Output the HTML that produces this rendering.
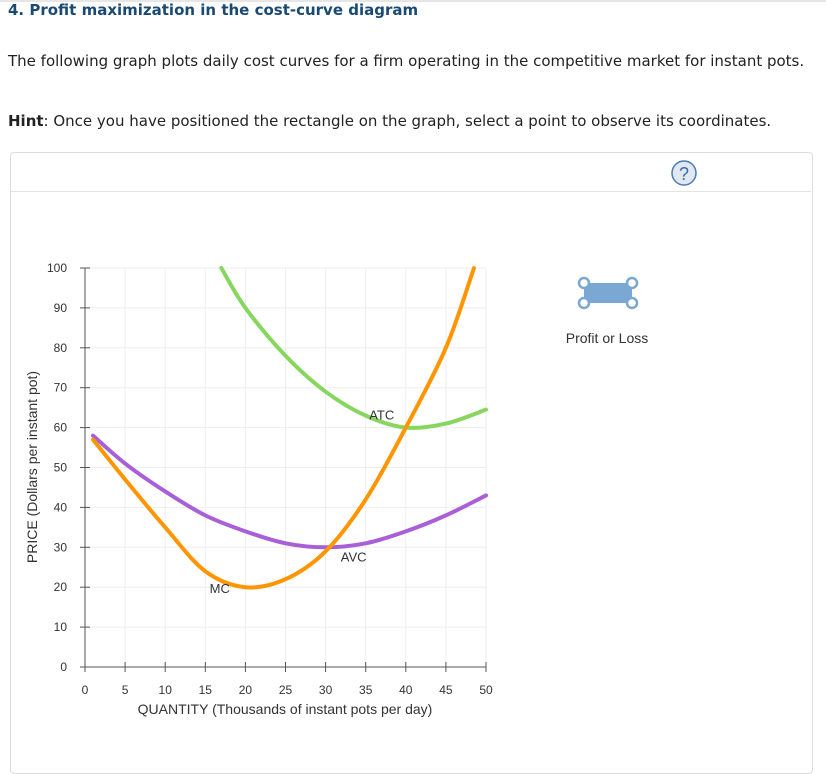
<!DOCTYPE html>
<html><head><meta charset="utf-8"><style>
body{margin:0;width:826px;height:755px;background:#fff;font-family:"Liberation Sans",sans-serif;position:relative;overflow:hidden}
.t{position:absolute;font-family:"DejaVu Sans","Liberation Sans",sans-serif;color:#222}
</style></head><body>
<div style="position:absolute;left:0;top:0;width:826px;height:2px;background:#e6e6e6"></div>
<div class="t" style="left:8px;top:1px;font-size:15px;font-weight:bold;color:#1a4a74">4. Profit maximization in the cost-curve diagram</div>
<div class="t" style="left:8px;top:52px;font-size:15px">The following graph plots daily cost curves for a firm operating in the competitive market for instant pots.</div>
<div class="t" style="left:8px;top:112px;font-size:15px"><b>Hint</b>: Once you have positioned the rectangle on the graph, select a point to observe its coordinates.</div>
<div style="position:absolute;left:10px;top:152px;width:801px;height:620px;border:1px solid #ddd;border-radius:4px"></div>
<div style="position:absolute;left:11px;top:191px;width:800px;height:1px;background:#e3e3e3"></div>
<svg width="826" height="755" style="position:absolute;left:0;top:0">
<g><circle cx="684" cy="173" r="12" fill="#dfe8f3" stroke="#4e7bb2" stroke-width="1.5"/><text x="684" y="180" text-anchor="middle" font-size="18" fill="#3a6ba3" font-family="Liberation Sans">?</text></g>
<g id="grid"></g><g id="axes"></g><g id="curves"></g>
<g>
<rect x="584" y="283" width="48" height="20" fill="#7ba7d4"/>
<circle cx="584" cy="283" r="5" fill="#fff" stroke="#7ba7d4" stroke-width="2.5"/><circle cx="632" cy="283" r="5" fill="#fff" stroke="#7ba7d4" stroke-width="2.5"/>
<circle cx="584" cy="303" r="5" fill="#fff" stroke="#7ba7d4" stroke-width="2.5"/><circle cx="632" cy="303" r="5" fill="#fff" stroke="#7ba7d4" stroke-width="2.5"/>
<text x="607" y="343" text-anchor="middle" font-size="14" fill="#333">Profit or Loss</text></g>
<text transform="translate(37,467) rotate(-90)" text-anchor="middle" font-size="14" fill="#333">PRICE (Dollars per instant pot)</text>
<text x="285" y="714" text-anchor="middle" font-size="14" fill="#333">QUANTITY (Thousands of instant pots per day)</text>
</svg>
<script>
const xTicks=[0,5,10,15,20,25,30,35,40,45,50];
const yTicks=[0,10,20,30,40,50,60,70,80,90,100];
const mcQ=[1,5,10,15,20,25,30,35,40,45,48.5];
const mcP=[57,47,35,24,20,22,29,42,60,80,100];
const avcQ=[1,5,10,15,20,25,30,35,40,45,50];
const avcP=[58,51,44,38,34,31,30,31,34,38,43];
const atcQ=[17,20,25,30,35,40,45,50];
const atcP=[100,90,78,69,63,60,61,64.5];
const X=q=>85+q*8.02, Y=p=>667-p*3.99;
const NS='http://www.w3.org/2000/svg';
function mk(t,a,p){const e=document.createElementNS(NS,t);for(const k in a)e.setAttribute(k,a[k]);p.appendChild(e);return e;}
const g=document.getElementById('grid'),ax=document.getElementById('axes'),cv=document.getElementById('curves');
xTicks.forEach(v=>{if(v>0){const l=mk('line',{x1:X(v),x2:X(v),y1:Y(100),y2:Y(0),stroke:'#eee'},g);

}
mk('line',{x1:X(v),x2:X(v),y1:Y(0)-5,y2:Y(0)+5,stroke:'#555'},ax);
const t=mk('text',{x:X(v),y:Y(0)+27,'text-anchor':'middle','font-size':12,fill:'#333'},ax);t.textContent=v;

});
yTicks.forEach(v=>{if(v>0){const l=mk('line',{x1:X(0),x2:X(50),y1:Y(v),y2:Y(v),stroke:'#eee'},g);

}
mk('line',{x1:X(0)-5,x2:X(0)+5,y1:Y(v),y2:Y(v),stroke:'#555'},ax);
const t=mk('text',{x:X(0)-18,y:Y(v)+4,'text-anchor':'end','font-size':12,fill:'#333'},ax);t.textContent=v;

});
mk('line',{x1:X(0),x2:X(0),y1:Y(100),y2:Y(0),stroke:'#555'},ax);
mk('line',{x1:X(0),x2:X(50),y1:Y(0),y2:Y(0),stroke:'#555'},ax);
function path(qs,ps){const pts=qs.map((q,i)=>[X(q),Y(ps[i])]);let d='M'+pts[0];
for(let i=0;i<pts.length-1;i++){const p0=pts[i-1]||pts[i],p1=pts[i],p2=pts[i+1],p3=pts[i+2]||p2;
d+=' C'+[p1[0]+(p2[0]-p0[0])/6,p1[1]+(p2[1]-p0[1])/6]+' '+[p2[0]-(p3[0]-p1[0])/6,p2[1]-(p3[1]-p1[1])/6]+' '+p2;}return d;}
function curve(qs,ps,c,n){const e=mk('path',{d:path(qs,ps),fill:'none',stroke:c,'stroke-width':4,'stroke-linecap':'round'},cv);

}
curve(atcQ,atcP,'#86d660','atc-curve');
curve(avcQ,avcP,'#a95fd6','avc-curve');
curve(mcQ,mcP,'#ff9500','mc-curve');
[['ATC',37,62,'atc-label'],['AVC',33.5,26.5,'avc-label'],['MC',16.8,18.5,'mc-label']].forEach(a=>{
const t=mk('text',{x:X(a[1]),y:Y(a[2]),'text-anchor':'middle','font-size':13,fill:'#333'},cv);t.textContent=a[0];

});
</script>
</body></html>
